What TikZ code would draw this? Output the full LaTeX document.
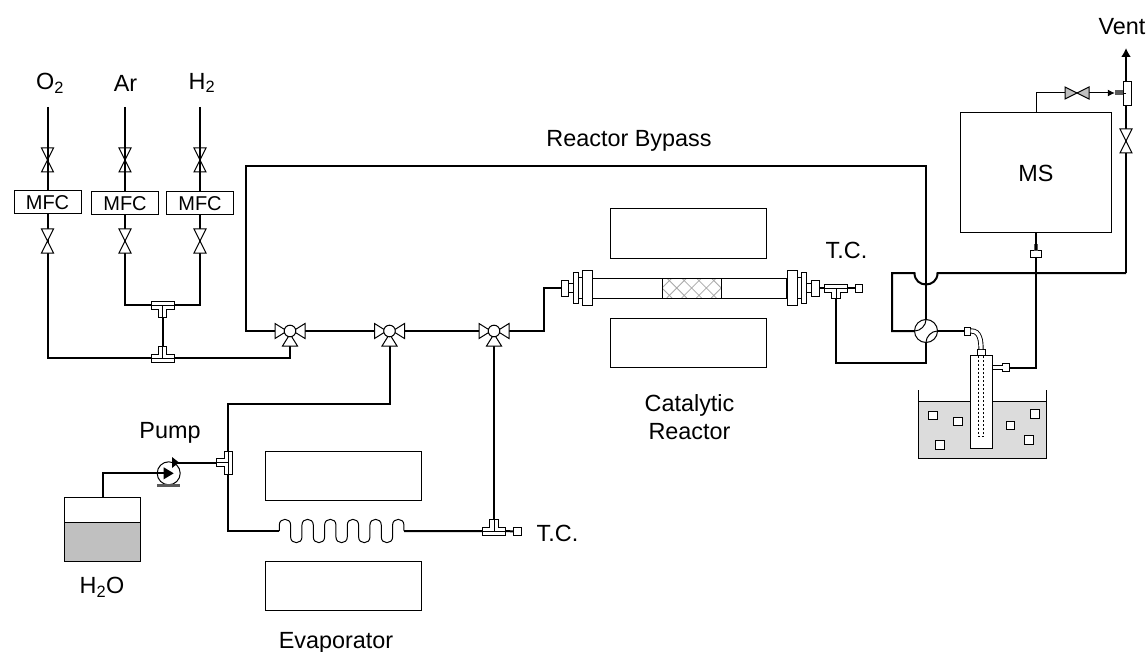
\documentclass[tikz,border=0pt]{standalone}
\usepackage{fontspec}
\setmainfont{Liberation Sans}
\usetikzlibrary{arrows.meta}
\definecolor{Ice}{HTML}{DCDCDC}
\definecolor{Water}{HTML}{C0C0C0}
\definecolor{Hatch}{HTML}{A8A8A8}
\definecolor{Metal}{HTML}{5A5A5A}
\tikzset{
  pipe/.style={line width=2pt,line join=miter},
  fine/.style={line width=1pt,line join=miter},
  txt/.style={font=\fontsize{23.4}{28}\selectfont,align=center,inner sep=0pt},
  mfcbox/.style={rectangle,draw,line width=1pt,fill=white,minimum width=67pt,minimum height=23pt,
    inner sep=0pt,outer sep=0pt,font=\fontsize{20}{22}\selectfont},
  heater/.style={rectangle,draw,line width=1pt,minimum width=156pt,minimum height=49pt,inner sep=0pt,outer sep=0pt},
  part/.style={rectangle,draw,line width=1pt,fill=white,inner sep=0pt,outer sep=0pt},
  icecube/.style={part,minimum size=8.5pt},
  pics/valve/.style={code={
    \draw[fine,fill=#1] (-6,-12) -- (6,-12) -- (-6,12) -- (6,12) -- cycle;}},
  pics/valve/.default=white,
  pics/threeway/.style={code={
    \draw[fine,fill=white] (-15,-7.5) -- (-3,0) -- (-15,7.5) -- cycle;
    \draw[fine,fill=white] (15,-7.5) -- (3,0) -- (15,7.5) -- cycle;
    \draw[fine,fill=white] (-7.5,15) -- (0,3) -- (7.5,15) -- cycle;
    \draw[fine,fill=white] (0,0) circle (5.8pt);}},
  pics/tee/.style={code={
    \draw[fine,fill=white] (-11.5,-4) -- (11.5,-4) -- (11.5,4) -- (4.2,4) -- (4.2,#1) -- (-4.2,#1) -- (-4.2,4) -- (-11.5,4) -- cycle;
    \draw[fine] (-11.5,0) -- (11.5,0) (0,0) -- (0,#1);}},
  pics/tee/.default=12
}
\begin{document}
\begin{tikzpicture}[x=1pt,y=-1pt]
\useasboundingbox (0,0) rectangle (1147,652);
\node[txt] (lbo) at (50,83) {O\textsubscript{2}};
\node[txt] (lba) at (125.5,83) {Ar};
\node[txt] (lbh) at (202,83) {H\textsubscript{2}};
\node[txt] (lbbypass) at (629,141) {Reactor Bypass};
\node[txt] (lbtc) at (846.5,250) {T.C.};
\node[txt] (lbtcb) at (557.5,533) {T.C.};
\node[txt] (lbcat) at (689.5,417) {Catalytic\\Reactor};
\node[txt] (lbpump) at (170,432.5) {Pump};
\node[txt] (lbwater) at (102,587.5) {H\textsubscript{2}O};
\node[txt] (lbevap) at (336,642.5) {Evaporator};
\node[txt] (lbvent) at (1122,26.5) {Vent};
\node[mfcbox] (mfco) at (47.5,202.5) {MFC};
\node[mfcbox] (mfca) at (125,203.5) {MFC};
\node[mfcbox] (mfch) at (200,203.5) {MFC};
\node[heater] (htrrt) at (688,233.5) {};
\node[heater] (htrrb) at (688,342.5) {};
\node[heater] (htret) at (343.7,476) {};
\node[heater] (htreb) at (343.7,585.5) {};
\node[part,minimum width=151pt,minimum height=120pt,font=\fontsize{23.4}{28}\selectfont] (ms) at (1036,173) {MS};
\node[part,fill=Ice,draw=black,minimum width=128pt,minimum height=57.3pt] (bath) at (982.6,430.3) {};
\draw[fine] (bath.north west) -- ++(0,-11.7) (bath.north east) -- ++(0,-11.7);
\foreach \x/\y [count=\n] in {933/415.7,958/421.7,940/445,1010.7/425.7,1035/414,1029/440}
  \node[icecube] (ice\n) at (\x,\y) {};
\node[part,minimum width=22pt,minimum height=93pt] (cond) at (981.7,401.5) {};
\node[part,minimum width=8pt,minimum height=6.5pt] (cap) at (981,352.3) {};
\draw[fine,dash pattern=on 2.5pt off 1.5pt] (cap.south) ++(-2.2,0) -- ++(0,81) -- ++(4.8,0) -- ++(0,-81);
\node[part,minimum width=6.5pt,minimum height=8pt] (fitin) at (967.3,331) {};
\node[part,minimum width=6.5pt,minimum height=8.5pt] (fitout) at (1006,367.7) {};
\draw[fine,double,double distance=3.4pt,line width=.9pt] (fitin.east) -- ++(1,0) .. controls +(8,0) and +(0,-9) .. (cap.north);
\draw[fine,double,double distance=3.4pt,line width=.9pt] (cond.east |- fitout) -- (fitout.west);
\node[part,fill=Water,minimum width=75.3pt,minimum height=39pt] (tankliq) at (102.6,542.2) {};
\node[part,minimum width=75.3pt,minimum height=25pt] (tankgas) at (102.6,510.2) {};
\node[part,minimum width=23pt,minimum height=23pt,shape=circle] (pump) at (168.7,473.3) {};
\node[part,minimum width=23pt,shape=circle] (fourway) at (926,331) {};
\draw[fine] (fourway.west) .. controls +(6,0) and +(0,6) .. (fourway.north);
\draw[fine] (fourway.east) .. controls +(-6,0) and +(0,-6) .. (fourway.south);
\foreach \x/\w/\h [count=\n] in {564.5/7/16,570.5/5/9,575.5/5/31,580.2/4.4/20.5,587.5/10/34.5,792/10/34.5,799/4/20.5,803.5/5/31,808.5/5/9,815/8/16}
  \node[part,minimum width=\w pt,minimum height=\h pt] (rf\n) at (\x,288) {};
\node[part,minimum width=194.5pt,minimum height=20pt] (rtube) at (689.7,288) {};
\begin{scope}
\clip (662,278) rectangle (721,298);
\foreach \x in {0,...,4}
  \draw[line width=.8pt,Hatch] (652+14.8*\x,278) -- ++(20,20) (652+14.8*\x,298) -- ++(20,-20);
\end{scope}
\node[part,fill=none,minimum width=59pt,minimum height=20pt] (rbed) at (691.5,288) {};
\node[part,minimum width=7.5pt,minimum height=8pt] (tcr) at (859,288) {};
\node[part,minimum width=7.5pt,minimum height=7.5pt] (tce) at (517.5,531.3) {};
\node[part,minimum width=11.5pt,minimum height=7.5pt] (fitms) at (1036,254.2) {};
\node[rectangle,fill=Metal,inner sep=0pt,minimum width=4pt,minimum height=7pt] (fitmsb) at (1036,247) {};
\node[rectangle,fill=Metal,inner sep=0pt,minimum width=8pt,minimum height=5pt] (ventstem) at (1119,93) {};
\coordinate (oin) at (47.5,107);
\coordinate (ain) at (125,107);
\coordinate (hin) at (200,107);
\coordinate (vot) at (47.5,160);
\coordinate (vat) at (125,160);
\coordinate (vht) at (200,160);
\coordinate (vob) at (47.5,241);
\coordinate (vab) at (125,241);
\coordinate (vhb) at (200,241);
\coordinate (teeup) at (162.5,305);
\coordinate (teelow) at (162.5,358);
\coordinate (twa) at (290,331);
\coordinate (twb) at (389.5,331);
\coordinate (twc) at (494,331);
\coordinate (byl) at (246,331);
\coordinate (byt) at (246,166);
\coordinate (byr) at (926,166);
\coordinate (teer) at (836,288);
\coordinate (retb) at (836,363);
\coordinate (retr) at (926,363);
\coordinate (ret) at (892,273);
\coordinate (hopa) at (914.5,273);
\coordinate (hopb) at (937.5,273);
\coordinate (ventj) at (1126,273);
\coordinate (ventv) at (1126,141);
\coordinate (ventt) at (1126,94);
\coordinate (venttop) at (1126,48);
\coordinate (vvent) at (1077,93);
\coordinate (evb) at (228,531);
\coordinate (coila) at (279.3,531);
\coordinate (coilb) at (404,531);
\coordinate (teeev) at (494,531);
\coordinate (teep) at (228,462.5);
\coordinate (pumpout) at (177,462.5);
\draw[pipe] (oin) -- (mfco.north);
\draw[pipe] (ain) -- (mfca.north);
\draw[pipe] (hin) -- (mfch.north);
\draw[pipe] (mfco.south) |- (teelow);
\draw[pipe] (mfca.south) |- (teeup);
\draw[pipe] (mfch.south) |- (teeup);
\draw[pipe] (teeup) -- (teelow);
\draw[pipe] (teelow) -| (twa);
\draw[pipe] (twa) -- (byl) -- (byt) -- (byr) -- (fourway.north);
\draw[pipe] (twa) -- (twb) -- (twc);
\draw[pipe] (twc) -- ++(50,0) |- (rf1.west);
\draw[pipe] (rf10.east) -- (tcr.west);
\draw[pipe] (teer) -- (retb) -- (retr) -- (fourway.south);
\draw[pipe] (fourway.west) -| (ret) -- (hopa) .. controls +(0,15.3) and +(0,15.3) .. (hopb) -- (ventj);
\draw[pipe] (fourway.east) -- (fitin.west);
\draw[pipe] (fitout.east) -| (fitms.south);
\draw[pipe] (fitms.north) -- (ms.south);
\draw[pipe,-{Latex[length=9pt,width=10pt]}] (ventj) -- (venttop);
\draw[fine] (ms.north) |- (vvent);
\draw[fine,-{Latex[length=7pt,width=7pt]}] (vvent) -- (ventstem.west);
\draw[pipe] (twb) -- ++(0,73.3) -| (evb) -- (coila);
\draw[fine] (coila) -- ++(0,-6)
  \foreach \n in {1,...,5} {
    .. controls +(0,-7.55) and +(0,-7.55) .. ++(11.33,0) -- ++(0,12)
    .. controls +(0,7.55) and +(0,7.55) .. ++(11.33,0) -- ++(0,-12)}
  .. controls +(0,-7.55) and +(0,-7.55) .. ++(11.33,0) -- (coilb);
\draw[pipe] (coilb) -- (teeev) -- (tce.west);
\draw[pipe] (teeev) -- (twc);
\draw[pipe] (tankgas.north) |- (pump.west);
\draw[pipe] (pumpout) -- (teep);
\draw[pipe] (pump.west) -- (pump.center);
\fill (pump.center) ++(-5,-6) -- ++(10,6) -- ++(-10,6) -- cycle;
\fill (pumpout) ++(-5,-5.5) -- ++(7,5.5) -- ++(-7,5.5) -- cycle;
\fill[Metal] (157,483.5) rectangle (179.5,487);
\node[part,minimum width=8pt,minimum height=24pt] (ventbar) at (1127,94) {};
\draw[fine] (ventt) -- (ventbar.west);
\foreach \v in {vot,vat,vht}
  \pic at (\v) {valve=none};
\foreach \v in {vob,vab,vhb}
  \pic at (\v) {valve};
\foreach \v in {twa,twb,twc}
  \pic at (\v) {threeway};
\pic at (ventv) {valve};
\pic[rotate=90] at (vvent) {valve=Water};
\pic at (teeup) {tee};
\pic[rotate=180] at (teelow) {tee};
\pic at (teer) {tee=10.5};
\pic[rotate=180] at (teeev) {tee};
\pic[rotate=-90] at (teep) {tee};
\end{tikzpicture}
\end{document}
